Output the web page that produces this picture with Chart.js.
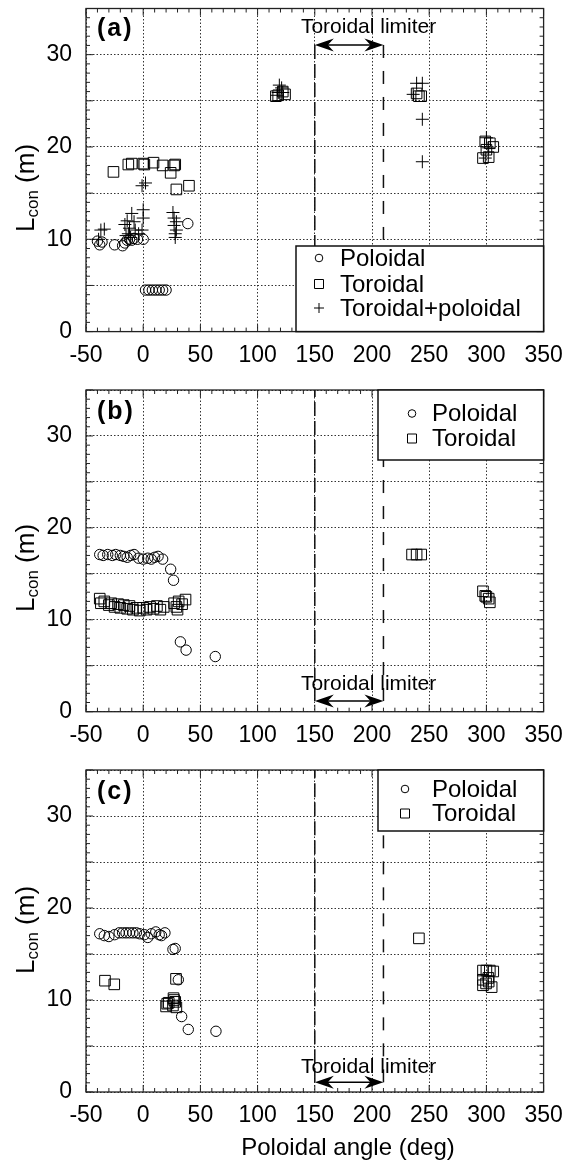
<!DOCTYPE html>
<html>
<head>
<meta charset="utf-8">
<script src="https://cdn.jsdelivr.net/npm/chart.js@4.4.1/dist/chart.umd.min.js"></script>
<style>
  body { margin: 0; background: #fff; width: 565px; height: 1166px; position: relative; overflow: hidden; }
  .panel { position: absolute; left: 0; width: 565px; }
  canvas { display: block; }
</style>
</head>
<body>
<div class="panel" style="top:0"><canvas id="chartA" width="565" height="375"></canvas></div>
<div class="panel" style="top:375px"><canvas id="chartB" width="565" height="375"></canvas></div>
<div class="panel" style="top:750px"><canvas id="chartC" width="565" height="416"></canvas></div>
<script>
const FONT = "'Liberation Sans', Arial, Helvetica, sans-serif";

// axis ticks
const xTickValues = [-50, 0, 50, 100, 150, 200, 250, 300, 350];
const yTickLabels = [0, 10, 20, 30];
const yGridStep = 5;

// toroidal limiter span (deg)
const limiterFrom = 150;
const limiterTo = 210;

// panel (a)
const aPoloidal = [
  [-40, 9.8], [-38, 9.4], [-36, 9.7], [-25, 9.4], [-18, 9.3], [-16, 9.6], [-14, 9.9],
  [-12, 10.0], [-10, 9.9], [-8, 10.1], [-5, 10.0], [0, 10.0], [39, 11.7],
  [2, 4.5], [5, 4.5], [8, 4.5], [11, 4.5], [14, 4.5], [17, 4.5], [20, 4.5]
];
const aToroidal = [
  [-26, 17.3], [-13, 18.1], [-10, 18.2], [0, 18.2], [1, 18.1], [9, 18.3], [17, 18.0],
  [24, 17.2], [27, 18.0], [28, 18.1], [29, 15.4], [40, 15.8],
  [116, 25.5], [118, 25.6], [122, 26.0], [124, 25.7],
  [239, 25.8], [241, 25.5], [243, 25.5],
  [297, 18.8], [299, 20.6], [303, 20.4], [306, 20.0], [302, 18.9], [300, 19.7]
];
const aBoth = [
  [-39, 10.0], [-37, 11.0], [-34, 11.1], [-16, 11.6], [-14, 12.0], [-12, 11.2], [-13, 10.6],
  [-10, 12.8], [-8, 11.9], [-7, 11.0], [-4, 10.6], [-1, 11.0], [0, 12.3], [0, 13.2],
  [-1, 15.8], [2, 16.1], [-15, 10.4], [-11, 10.2],
  [26, 12.9], [27, 12.3], [29, 11.9], [27, 11.5], [29, 11.0], [28, 10.6], [28, 10.2],
  [119, 26.7], [121, 26.4], [118, 25.9], [122, 25.9], [117, 25.6],
  [239, 26.9], [244, 26.9], [236, 25.7], [244, 23.0], [244, 18.4],
  [300, 21.0], [302, 19.9], [299, 18.8]
];

// panel (b)
const bPoloidal = [
  [-38, 17.1], [-35, 17.0], [-31, 17.1], [-27, 17.0], [-24, 17.1], [-20, 17.0], [-17, 16.9],
  [-14, 16.8], [-11, 17.0], [-8, 17.1], [-4, 16.7], [0, 16.6], [4, 16.7], [7, 16.6],
  [10, 16.8], [13, 16.9], [17, 16.6], [24, 15.5], [26.5, 14.3], [32.5, 7.6], [37.5, 6.7], [63, 6.0]
];
const bToroidal = [
  [-38, 12.3], [-37, 11.8], [-34, 12.0], [-30, 11.6], [-28, 11.8], [-25, 11.4], [-22, 11.7],
  [-20, 11.3], [-17, 11.6], [-14, 11.2], [-12, 11.5], [-9, 11.1], [-6, 11.3], [-3, 11.0],
  [0, 11.3], [3, 11.1], [6, 11.4], [9, 11.2], [12, 11.5], [15, 11.1], [18, 11.4],
  [27, 11.8], [29, 11.4], [31, 12.0], [34, 11.7], [37, 12.2], [30, 11.1],
  [235, 17.1], [239, 17.1], [243, 17.1],
  [297, 13.1], [299, 12.6], [302, 12.3], [303, 11.9], [300, 12.5]
];

// panel (c)
const cPoloidal = [
  [-38, 17.2], [-34, 17.0], [-30, 16.9], [-25, 17.1], [-21, 17.3], [-18, 17.3], [-15, 17.3],
  [-12, 17.3], [-9, 17.3], [-6, 17.3], [-3, 17.2], [1, 17.1], [4, 16.8], [7, 17.2],
  [11, 17.4], [14, 17.1], [16, 17.0], [19, 17.3], [26, 15.5], [28, 15.6],
  [30.7, 12.2], [33.6, 8.2], [39.4, 6.8], [63.6, 6.6]
];
const cToroidal = [
  [-33.4, 12.1], [-25.3, 11.7], [28.7, 12.3], [20, 9.3], [21, 9.6], [22.3, 9.7], [26, 9.4],
  [26.5, 10.2], [28, 9.8], [29, 9.2], [27, 10.0],
  [241, 16.7],
  [297, 13.2], [300, 13.2], [303, 13.2], [306, 13.1], [297, 12.2], [301.7, 12.4],
  [304.6, 11.4], [299.7, 11.8], [297, 11.6], [302, 12.0]
];

const STYLES = {
  Poloidal: { pointStyle: 'circle', radius: 5.2 },
  Toroidal: { pointStyle: 'rect', radius: 7.5 },
  'Toroidal+poloidal': { pointStyle: 'cross', radius: 6.5 }
};

function legendSymbol(ctx, style, x, y) {
  ctx.save();
  ctx.strokeStyle = '#000';
  ctx.lineWidth = 1;
  ctx.beginPath();
  if (style === 'circle') {
    ctx.arc(x, y, 3.8, 0, Math.PI * 2);
  } else if (style === 'rect') {
    ctx.rect(x - 4.5, y - 4.5, 9, 9);
  } else {
    ctx.moveTo(x - 5, y); ctx.lineTo(x + 5, y);
    ctx.moveTo(x, y - 5); ctx.lineTo(x, y + 5);
  }
  ctx.stroke();
  ctx.restore();
}

function arrowHead(ctx, x, y, dir) {
  ctx.beginPath();
  ctx.moveTo(x, y);
  ctx.lineTo(x - dir * 19, y - 6.5);
  ctx.lineTo(x - dir * 13, y);
  ctx.lineTo(x - dir * 19, y + 6.5);
  ctx.closePath();
  ctx.fill();
}

function decorPlugin(cfg) {
  return {
    id: 'decor',
    beforeDatasetsDraw(chart) {
      const { ctx, chartArea: ca, scales: { x: sx, y: sy } } = chart;
      ctx.save();
      // frame
      ctx.strokeStyle = '#222';
      ctx.lineWidth = 1.3;
      ctx.strokeRect(ca.left, ca.top, ca.right - ca.left, ca.bottom - ca.top);
      // minor ticks, inward
      ctx.lineWidth = 1;
      ctx.beginPath();
      for (let v = -50; v <= 350; v += 10) {
        const px = sx.getPixelForValue(v);
        const len = v % 50 === 0 ? 7 : 4;
        ctx.moveTo(px, ca.top); ctx.lineTo(px, ca.top + len);
        ctx.moveTo(px, ca.bottom); ctx.lineTo(px, ca.bottom - len);
      }
      for (let v = 0; v <= 35; v += 1) {
        const py = sy.getPixelForValue(v);
        const len = v % 5 === 0 ? 7 : 4;
        ctx.moveTo(ca.left, py); ctx.lineTo(ca.left + len, py);
        ctx.moveTo(ca.right, py); ctx.lineTo(ca.right - len, py);
      }
      ctx.stroke();

      // limiter lines
      const x1 = sx.getPixelForValue(limiterFrom);
      const x2 = sx.getPixelForValue(limiterTo);
      const yA = sy.getPixelForValue(cfg.arrowY);
      const yEnd = sy.getPixelForValue(cfg.lineEnd);
      ctx.strokeStyle = '#111';
      ctx.lineWidth = 1.5;
      ctx.setLineDash([14, 5]);
      ctx.beginPath(); ctx.moveTo(x1, yA); ctx.lineTo(x1, yEnd); ctx.stroke();
      ctx.setLineDash([13, 13]);
      ctx.beginPath(); ctx.moveTo(x2, yA); ctx.lineTo(x2, yEnd); ctx.stroke();
      ctx.setLineDash([]);

      // arrow + label
      ctx.fillStyle = '#000';
      ctx.strokeStyle = '#000';
      ctx.lineWidth = 1.5;
      ctx.beginPath(); ctx.moveTo(x1 + 10, yA); ctx.lineTo(x2 - 10, yA); ctx.stroke();
      arrowHead(ctx, x1, yA, -1);
      arrowHead(ctx, x2, yA, 1);
      ctx.font = `21px ${FONT}`;
      ctx.textAlign = 'center';
      ctx.textBaseline = 'alphabetic';
      ctx.fillText('Toroidal limiter', sx.getPixelForValue(197), sy.getPixelForValue(cfg.textY));
      ctx.restore();
    },
    afterDraw(chart) {
      const { ctx, chartArea: ca } = chart;
      ctx.save();
      // legend box
      const lg = cfg.legend;
      ctx.fillStyle = '#fff';
      ctx.fillRect(lg.left, lg.top, ca.right - lg.left, lg.bottom - lg.top);
      ctx.strokeStyle = '#111';
      ctx.lineWidth = 1.5;
      ctx.strokeRect(lg.left, lg.top, ca.right - lg.left, lg.bottom - lg.top);
      ctx.fillStyle = '#000';
      ctx.font = `24px ${FONT}`;
      ctx.textAlign = 'left';
      ctx.textBaseline = 'middle';
      lg.rows.forEach((row, i) => {
        legendSymbol(ctx, STYLES[row].pointStyle, lg.symbolX, lg.rowY[i]);
        ctx.fillText(row, lg.textX, lg.rowY[i] + 1);
      });

      // panel letter
      ctx.font = `bold 25px ${FONT}`;
      ctx.textBaseline = 'alphabetic';
      if ('letterSpacing' in ctx) ctx.letterSpacing = '2px';
      ctx.fillText(cfg.letter, 97, ca.top + cfg.letterDy);
      if ('letterSpacing' in ctx) ctx.letterSpacing = '0px';

      // y title with subscript
      ctx.translate(34, cfg.yTitleCenter);
      ctx.rotate(-Math.PI / 2);
      ctx.font = `26px ${FONT}`;
      const wL = ctx.measureText('L').width;
      const wM = ctx.measureText(' (m)').width;
      ctx.font = `17px ${FONT}`;
      const wC = ctx.measureText('con').width;
      let tx = -(wL + wC + wM) / 2;
      ctx.font = `26px ${FONT}`;
      ctx.fillText('L', tx, 0); tx += wL;
      ctx.font = `17px ${FONT}`;
      ctx.fillText('con', tx, 4); tx += wC;
      ctx.font = `26px ${FONT}`;
      ctx.fillText(' (m)', tx, 0);
      ctx.restore();

      if (cfg.xTitle) {
        ctx.save();
        ctx.fillStyle = '#000';
        ctx.font = `24px ${FONT}`;
        ctx.textAlign = 'center';
        ctx.textBaseline = 'alphabetic';
        ctx.fillText(cfg.xTitle, 348, cfg.xTitleY);
        ctx.restore();
      }
    }
  };
}

function buildPanel(id, cfg) {
  const canvas = document.getElementById(id);
  const H = canvas.height;
  const datasets = cfg.series.map(s => ({
    label: s.name,
    data: s.points.map(p => ({ x: p[0], y: p[1] })),
    pointStyle: STYLES[s.name].pointStyle,
    pointRadius: STYLES[s.name].radius,
    pointHoverRadius: STYLES[s.name].radius,
    borderColor: '#000',
    backgroundColor: 'rgba(0,0,0,0)',
    borderWidth: 1,
    showLine: false
  }));

  new Chart(canvas, {
    type: 'scatter',
    data: { datasets },
    options: {
      responsive: false,
      animation: false,
      events: [],
      layout: { padding: { top: cfg.padTop, right: 21.4, left: 0, bottom: 0 } },
      plugins: { legend: { display: false }, tooltip: { enabled: false } },
      scales: {
        x: {
          type: 'linear',
          min: -50,
          max: 350,
          afterBuildTicks: scale => { scale.ticks = xTickValues.map(v => ({ value: v })); },
          afterFit: scale => {
            scale.height = H - cfg.plotBottom;
            scale.paddingLeft = 0;
            scale.paddingRight = 0;
          },
          ticks: { color: '#000', font: { family: FONT, size: 23 }, padding: 10, maxRotation: 0 },
          grid: { color: '#333', lineWidth: 1, drawTicks: false },
          border: { display: false, dash: [1.5, 2] }
        },
        y: {
          type: 'linear',
          min: 0,
          max: 35,
          afterBuildTicks: scale => {
            const t = [];
            for (let v = 0; v <= 35; v += yGridStep) t.push({ value: v });
            scale.ticks = t;
          },
          afterFit: scale => {
            scale.width = 86;
            scale.paddingTop = 0;
            scale.paddingBottom = 0;
          },
          ticks: {
            color: '#000',
            font: { family: FONT, size: 23 },
            padding: 14,
            callback: v => (yTickLabels.includes(v) ? String(v) : '')
          },
          grid: { color: '#333', lineWidth: 1, drawTicks: false },
          border: { display: false, dash: [1.5, 2] }
        }
      }
    },
    plugins: [decorPlugin(cfg)]
  });
}

buildPanel('chartA', {
  padTop: 8, plotBottom: 331.6,
  series: [
    { name: 'Poloidal', points: aPoloidal },
    { name: 'Toroidal', points: aToroidal },
    { name: 'Toroidal+poloidal', points: aBoth }
  ],
  arrowY: 31.05, textY: 32.3, lineEnd: 0,
  legend: { left: 296, top: 246, bottom: 331.6, symbolX: 319, textX: 340,
            rows: ['Poloidal', 'Toroidal', 'Toroidal+poloidal'], rowY: [258, 284, 308] },
  letter: '(a)', letterDy: 27, yTitleCenter: 188
});

buildPanel('chartB', {
  padTop: 15, plotBottom: 336.7,
  series: [
    { name: 'Poloidal', points: bPoloidal },
    { name: 'Toroidal', points: bToroidal }
  ],
  arrowY: 1.16, textY: 2.36, lineEnd: 35,
  legend: { left: 378, top: 15, bottom: 85, symbolX: 412, textX: 432,
            rows: ['Poloidal', 'Toroidal'], rowY: [38.5, 63.5] },
  letter: '(b)', letterDy: 29, yTitleCenter: 193
});

buildPanel('chartC', {
  padTop: 20, plotBottom: 342,
  series: [
    { name: 'Poloidal', points: cPoloidal },
    { name: 'Toroidal', points: cToroidal }
  ],
  arrowY: 1.05, textY: 2.03, lineEnd: 35,
  legend: { left: 378, top: 20, bottom: 81, symbolX: 405, textX: 432,
            rows: ['Poloidal', 'Toroidal'], rowY: [39, 63.5] },
  letter: '(c)', letterDy: 29, yTitleCenter: 180,
  xTitle: 'Poloidal angle (deg)', xTitleY: 405
});
</script>
</body>
</html>
